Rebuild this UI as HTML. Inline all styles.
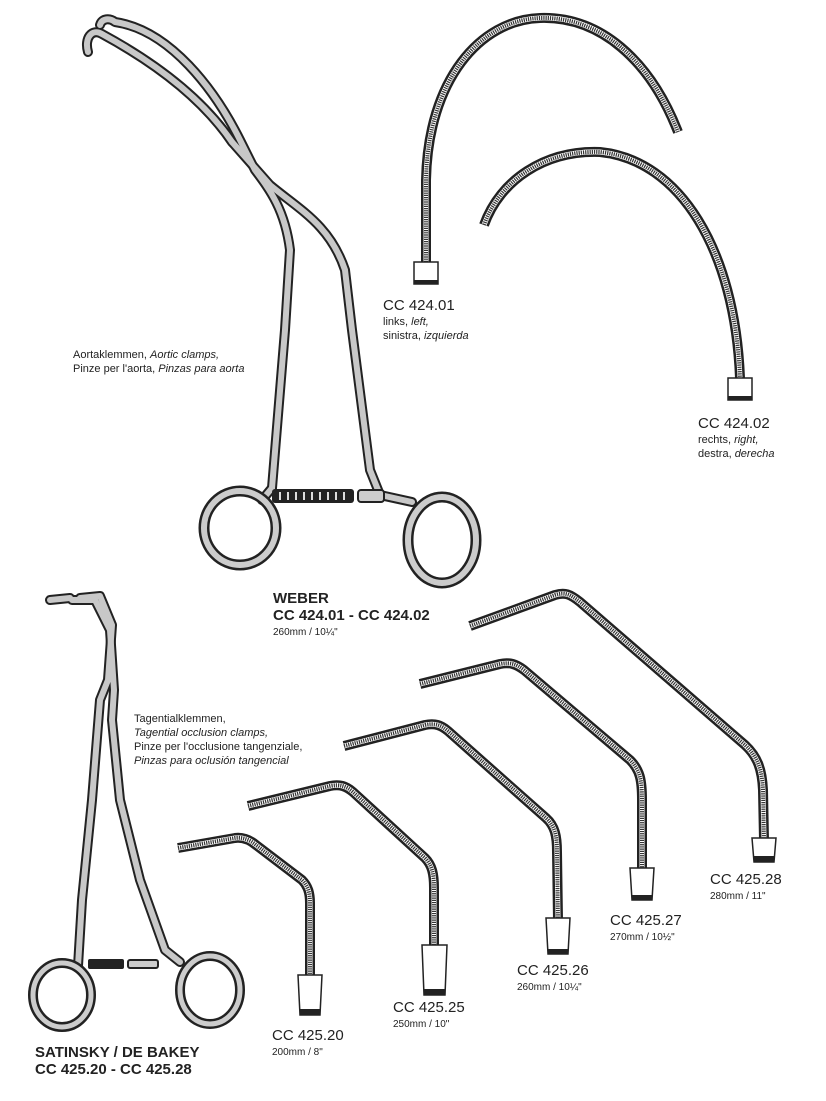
<!DOCTYPE html>
<html><head><meta charset="utf-8"><style>
body{margin:0;background:#fff}
svg{display:block}
text{font-family:"Liberation Sans",Arial,sans-serif;fill:#222}
.j{fill:none;stroke:#222;stroke-width:10;stroke-linejoin:round}
.jw{fill:none;stroke:#fff;stroke-width:5;stroke-linejoin:round}
.ji{fill:none;stroke:#333;stroke-width:4;stroke-dasharray:1.2 1;stroke-linejoin:round}
.o{fill:none;stroke:#222;stroke-width:10;stroke-linecap:round;stroke-linejoin:round}
.i{fill:none;stroke:#c8c8c8;stroke-width:6;stroke-linecap:round;stroke-linejoin:round}
.tip{fill:#fff;stroke:#222;stroke-width:1.5}
</style></head><body>
<svg width="826" height="1101" viewBox="0 0 826 1101">
<defs>
<g id="w">
<path d="M88,52 C84,38 92,28 102,34 C150,60 200,95 232,142"/>
<path d="M100,25 C102,18 110,18 115,22 C170,30 215,90 240,140 L255,170 C270,190 285,210 290,250 L285,330 L272,488"/>
<path d="M232,142 L270,185 C300,210 330,225 345,270 L352,330 L370,470 L380,495 L412,502"/>
<path d="M272,488 L262,500"/>
</g>
<g id="s">
<path d="M50,600 L70,598 M80,598 L100,596 L112,625 L108,680 L100,700 L92,800 L82,900 L78,966"/>
<path d="M72,600 L95,600 L110,630 L114,690 L112,720 L120,800 L140,880 L165,950 L180,962"/>
</g>
<g id="p1"><path d="M426,262 L426,180 C428,80 480,20 540,18 C600,16 650,60 678,132"/></g>
<g id="p2"><path d="M484,225 C500,180 545,150 600,152 C680,160 735,250 740,378"/></g>
<g id="a1"><path d="M470,626 L555,595 C565,592 570,594 580,602 L745,745 C758,757 762,770 763,790 L764,840"/></g>
<g id="a2"><path d="M420,684 L500,664 C510,662 516,664 524,670 L630,760 C640,770 642,780 642,800 L642,870"/></g>
<g id="a3"><path d="M344,746 L425,725 C435,723 441,725 448,731 L546,818 C555,826 557,836 557,852 L558,920"/></g>
<g id="a4"><path d="M248,806 L330,786 C340,784 346,786 353,792 L425,858 C432,865 434,874 434,888 L434,945"/></g>
<g id="a5"><path d="M178,848 L235,838 C243,837 250,840 256,845 L302,880 C308,886 310,893 310,903 L310,975"/></g>
</defs>
<!-- Weber clamp -->
<use href="#w" class="o"/>
<use href="#w" class="i"/>
<ellipse cx="240" cy="528" rx="36" ry="37" fill="none" stroke="#222" stroke-width="11"/>
<ellipse cx="240" cy="528" rx="36" ry="37" fill="none" stroke="#ccc" stroke-width="6"/>
<ellipse cx="442" cy="540" rx="34" ry="43" fill="none" stroke="#222" stroke-width="11"/>
<ellipse cx="442" cy="540" rx="34" ry="43" fill="none" stroke="#ccc" stroke-width="6"/>
<rect x="272" y="489" width="82" height="14" rx="3" fill="#222"/>
<path d="M280,492 v8 M288,492 v8 M296,492 v8 M304,492 v8 M312,492 v8 M320,492 v8 M328,492 v8 M336,492 v8 M344,492 v8" stroke="#ddd" stroke-width="2"/>
<rect x="358" y="490" width="26" height="12" rx="3" fill="#ccc" stroke="#222" stroke-width="2"/>
<!-- Satinsky -->
<use href="#s" class="o"/>
<use href="#s" class="i"/>
<ellipse cx="62" cy="995" rx="29" ry="32" fill="none" stroke="#222" stroke-width="10"/>
<ellipse cx="62" cy="995" rx="29" ry="32" fill="none" stroke="#ccc" stroke-width="5"/>
<ellipse cx="210" cy="990" rx="30" ry="34" fill="none" stroke="#222" stroke-width="10"/>
<ellipse cx="210" cy="990" rx="30" ry="34" fill="none" stroke="#ccc" stroke-width="5"/>
<rect x="88" y="959" width="36" height="10" rx="2" fill="#222"/>
<rect x="128" y="960" width="30" height="8" rx="2" fill="#ccc" stroke="#222" stroke-width="2"/>
<!-- jaws -->
<use href="#p1" class="j"/><use href="#p1" class="jw"/><use href="#p1" class="ji"/>
<path class="tip" d="M414,262 h24 v22 h-24 z"/><rect x="414" y="280" width="24" height="4" fill="#222"/>
<use href="#p2" class="j"/><use href="#p2" class="jw"/><use href="#p2" class="ji"/>
<path class="tip" d="M728,378 h24 v22 h-24 z"/><rect x="728" y="396" width="24" height="4" fill="#222"/>
<use href="#a1" class="j"/><use href="#a1" class="jw"/><use href="#a1" class="ji"/>
<path class="tip" d="M752,838 h24 l-2,24 h-20 z"/><rect x="754" y="856" width="20" height="6" fill="#222"/>
<use href="#a2" class="j"/><use href="#a2" class="jw"/><use href="#a2" class="ji"/>
<path class="tip" d="M630,868 h24 l-2,32 h-20 z"/><rect x="632" y="895" width="20" height="5" fill="#222"/>
<use href="#a3" class="j"/><use href="#a3" class="jw"/><use href="#a3" class="ji"/>
<path class="tip" d="M546,918 h24 l-2,36 h-20 z"/><rect x="548" y="949" width="20" height="5" fill="#222"/>
<use href="#a4" class="j"/><use href="#a4" class="jw"/><use href="#a4" class="ji"/>
<path class="tip" d="M422,945 h25 l-2,50 h-21 z"/><rect x="424" y="989" width="21" height="6" fill="#222"/>
<use href="#a5" class="j"/><use href="#a5" class="jw"/><use href="#a5" class="ji"/>
<path class="tip" d="M298,975 h24 l-2,40 h-20 z"/><rect x="300" y="1009" width="20" height="6" fill="#222"/>
<!-- text -->
<text x="73" y="358" font-size="11">Aortaklemmen, <tspan font-style="italic">Aortic clamps,</tspan></text>
<text x="73" y="372" font-size="11">Pinze per l'aorta, <tspan font-style="italic">Pinzas para aorta</tspan></text>
<text x="383" y="310" font-size="15">CC 424.01</text>
<text x="383" y="325" font-size="11">links, <tspan font-style="italic">left,</tspan></text>
<text x="383" y="339" font-size="11">sinistra, <tspan font-style="italic">izquierda</tspan></text>
<text x="698" y="428" font-size="15">CC 424.02</text>
<text x="698" y="443" font-size="11">rechts, <tspan font-style="italic">right,</tspan></text>
<text x="698" y="457" font-size="11">destra, <tspan font-style="italic">derecha</tspan></text>
<text x="273" y="603" font-size="15" font-weight="bold">WEBER</text>
<text x="273" y="620" font-size="15" font-weight="bold">CC 424.01 - CC 424.02</text>
<text x="273" y="635" font-size="10">260mm / 10¼"</text>
<text x="134" y="722" font-size="11">Tagentialklemmen,</text>
<text x="134" y="736" font-size="11" font-style="italic">Tagential occlusion clamps,</text>
<text x="134" y="750" font-size="11">Pinze per l'occlusione tangenziale,</text>
<text x="134" y="764" font-size="11" font-style="italic">Pinzas para oclusión tangencial</text>
<text x="710" y="884" font-size="15">CC 425.28</text>
<text x="710" y="899" font-size="10">280mm / 11"</text>
<text x="610" y="925" font-size="15">CC 425.27</text>
<text x="610" y="940" font-size="10">270mm / 10½"</text>
<text x="517" y="975" font-size="15">CC 425.26</text>
<text x="517" y="990" font-size="10">260mm / 10¼"</text>
<text x="393" y="1012" font-size="15">CC 425.25</text>
<text x="393" y="1027" font-size="10">250mm / 10"</text>
<text x="272" y="1040" font-size="15">CC 425.20</text>
<text x="272" y="1055" font-size="10">200mm / 8"</text>
<text x="35" y="1057" font-size="15" font-weight="bold">SATINSKY / DE BAKEY</text>
<text x="35" y="1074" font-size="15" font-weight="bold">CC 425.20 - CC 425.28</text>
</svg>
</body></html>
